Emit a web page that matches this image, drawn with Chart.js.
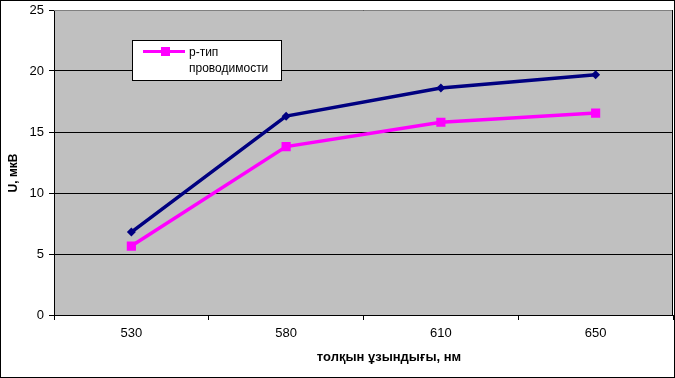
<!DOCTYPE html>
<html><head><meta charset="utf-8">
<script src="https://cdn.jsdelivr.net/npm/chart.js@4/dist/chart.umd.min.js"></script>
<style>html,body{margin:0;padding:0;background:#fff}#wrap{width:675px;height:378px;position:relative}</style>
</head><body><div id="wrap"><canvas id="c" width="675" height="378"></canvas></div>
<script>
const categories = ['530', '580', '610', '650'];
const seriesN = [6.8, 16.3, 18.6, 19.7];
const seriesP = [5.65, 13.8, 15.8, 16.55];
const legendLabel = ['р-тип', 'проводимости'];
const yTitle = 'U, мкВ';
const xTitle = 'толқын ұзындығы, нм';

const FONT = '"Liberation Sans", Arial, sans-serif';

const bgPlugin = {
  id: 'bg',
  beforeDraw(chart) {
    const {ctx, chartArea: a} = chart;
    ctx.save();
    ctx.fillStyle = '#fff';
    ctx.fillRect(0, 0, chart.width, chart.height);
    ctx.fillStyle = '#C0C0C0';
    ctx.fillRect(a.left, a.top, a.right - a.left, a.bottom - a.top);
    ctx.restore();
  },
  afterDraw(chart) {
    const {ctx, chartArea: a} = chart;
    ctx.save();
    ctx.strokeStyle = '#808080';
    ctx.lineWidth = 1;
    ctx.beginPath();
    ctx.moveTo(a.left, a.top + 0.5); ctx.lineTo(a.right, a.top + 0.5);
    ctx.stroke();
    ctx.strokeStyle = '#000';
    ctx.beginPath();
    ctx.moveTo(a.right - 0.5, a.top); ctx.lineTo(a.right - 0.5, a.bottom);
    ctx.stroke();
    // outer border
    ctx.strokeRect(0.5, 0.5, chart.width - 1, chart.height - 1);
    // axis titles
    ctx.fillStyle = '#000';
    ctx.font = 'bold 13px ' + FONT;
    ctx.textAlign = 'center';
    ctx.textBaseline = 'middle';
    ctx.fillText(xTitle, 389, 357);
    ctx.save();
    ctx.translate(14, 173);
    ctx.rotate(-Math.PI / 2);
    ctx.font = 'bold 12px ' + FONT;
    ctx.fillText(yTitle, 0, 0);
    ctx.restore();
    // legend
    const lx = 132, ly = 40, lw = 149, lh = 40;
    ctx.fillStyle = '#fff';
    ctx.fillRect(lx, ly, lw, lh);
    ctx.strokeRect(lx + 0.5, ly + 0.5, lw, lh);
    ctx.strokeStyle = '#FF00FF';
    ctx.lineWidth = 3;
    ctx.beginPath();
    ctx.moveTo(143, 51.5); ctx.lineTo(185, 51.5); ctx.stroke();
    ctx.fillStyle = '#FF00FF';
    ctx.fillRect(161, 47, 9, 9);
    ctx.fillStyle = '#000';
    ctx.font = '12px ' + FONT;
    ctx.textBaseline = 'middle';
    ctx.textAlign = 'left';
    ctx.fillText(legendLabel[0], 189, 53);
    ctx.fillText(legendLabel[1], 189, 69);
    ctx.restore();
  }
};

new Chart(document.getElementById('c'), {
  type: 'line',
  data: {
    labels: categories,
    datasets: [
      { label: 'n', data: seriesN, borderColor: '#000080', backgroundColor: '#000080',
        borderWidth: 3.5, pointStyle: 'rectRot', pointRadius: 4.5, pointBorderWidth: 0, tension: 0 },
      { label: 'p', data: seriesP, borderColor: '#FF00FF', backgroundColor: '#FF00FF',
        borderWidth: 3.5, pointStyle: 'rect', pointRadius: 6.5, pointBorderWidth: 0, tension: 0 }
    ]
  },
  options: {
    responsive: false,
    animation: false,
    events: [],
    layout: { autoPadding: false, padding: { top: 10, right: 2, left: 0, bottom: 0 } },
    plugins: { legend: { display: false }, tooltip: { enabled: false } },
    scales: {
      x: {
        offset: true,
        grid: { display: true, drawOnChartArea: false, offset: true, color: '#000', tickLength: 5, tickColor: '#000' },
        border: { color: '#000', width: 1 },
        ticks: { color: '#000', font: { family: FONT, size: 13 }, padding: 6, maxRotation: 0 },
        afterFit(s) { s.height = 63; s.paddingLeft = 0; s.paddingRight = 0; }
      },
      y: {
        min: 0, max: 25,
        ticks: { stepSize: 5, color: '#000', font: { family: FONT, size: 13 }, padding: 5 },
        grid: { color: '#000', tickLength: 5, tickColor: '#000' },
        border: { color: '#000', width: 1 },
        afterFit(s) { s.width = 54; s.paddingTop = 0; s.paddingBottom = 0; }
      }
    }
  },
  plugins: [bgPlugin]
});
</script></body></html>
